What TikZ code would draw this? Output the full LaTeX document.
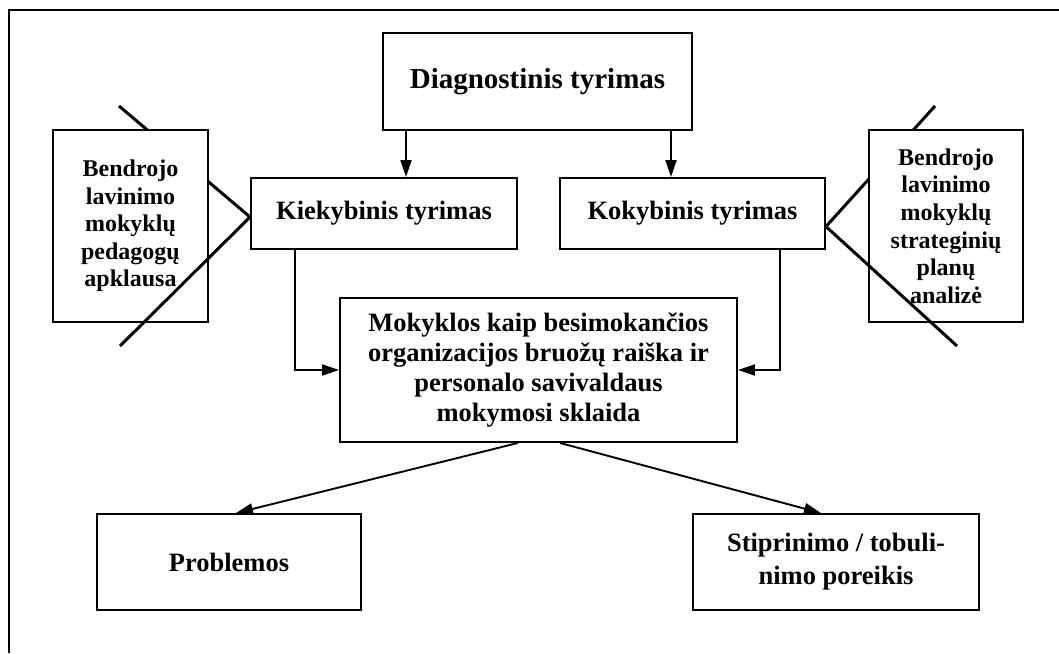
\documentclass[tikz,border=0pt]{standalone}
\usepackage{fontspec}
\setmainfont{Liberation Serif}
\usetikzlibrary{arrows.meta}
\begin{document}
\begin{tikzpicture}[x=1pt,y=-1pt,
  box/.style={draw,line width=1.9pt,fill=white,inner sep=0pt,align=center,
    font=\bfseries\fontsize{26.5}{30}\selectfont},
  sidebox/.style={box,font=\bfseries\fontsize{24}{27.6}\selectfont},
  link/.style={line width=1.9pt,-{Triangle[length=17pt,width=11pt]}},
  spoke/.style={line width=3pt},
  frame/.style={line width=2pt}]
\useasboundingbox (0,0) rectangle (1059,653);

% open frame (top and left sides only)
\draw[frame] (1059,10) -- (9,10) -- (9,653);

% free ends of the slanted spokes
\coordinate (lt) at (119,106);
\coordinate (lb) at (120,346);
\coordinate (rt) at (935,106);
\coordinate (rb) at (957,346);

% main boxes
\node[box,font=\bfseries\fontsize{29}{33}\selectfont,
  minimum width=309pt,minimum height=97pt] (diag) at (537.5,81.5) {Diagnostinis tyrimas};
\node[box,minimum width=266pt,minimum height=71pt] (kiek) at (384,213.5) {Kiekybinis tyrimas};
\node[box,minimum width=265pt,minimum height=71pt] (koky) at (692.5,213.5) {Kokybinis tyrimas};

% upper spokes, partly hidden behind the side boxes
\draw[spoke] ([yshift=-3.5pt]kiek.west) -- (lt);
\draw[spoke] ([yshift=-13pt]koky.east) -- (rt);

% side boxes
\node[sidebox,minimum width=155pt,minimum height=192pt] (lside) at (130.5,226)
  {Bendrojo\\lavinimo\\mokyklų\\pedagogų\\apklausa};
\node[sidebox,minimum width=154pt,minimum height=192pt] (rside) at (946,226)
  {Bendrojo\\lavinimo\\mokyklų\\strateginių\\planų\\analizė};

% lower spokes, drawn across the side boxes
\draw[spoke] ([yshift=-3.5pt]kiek.west) -- (lb);
\draw[spoke] ([yshift=-13pt]koky.east) -- (rb);

% central box and results
\node[box,minimum width=397pt,minimum height=144pt] (center) at (538.5,370)
  {Mokyklos kaip besimokančios\\organizacijos bruožų raiška ir\\personalo savivaldaus\\mokymosi sklaida};
\node[box,minimum width=264pt,minimum height=96pt] (prob) at (229,562) {Problemos};
\node[box,font=\bfseries\fontsize{26.5}{33}\selectfont,
  minimum width=286pt,minimum height=96pt] (stip) at (836,562) {Stiprinimo / tobuli-\\nimo poreikis};

% connectors
\draw[link] ([xshift=-131.5pt]diag.south) -- ([xshift=-131.5pt]diag.south |- kiek.north);
\draw[link] ([xshift=133.5pt]diag.south) -- ([xshift=133.5pt]diag.south |- koky.north);
\draw[link] ([xshift=-89pt]kiek.south) |- (center.west);
\draw[link] ([xshift=87.5pt]koky.south) |- (center.east);
\draw[link] ([xshift=-20.5pt]center.south) -- ([xshift=7pt]prob.north);
\draw[link] ([xshift=21.5pt]center.south) -- ([xshift=-15pt]stip.north);
\end{tikzpicture}
\end{document}
